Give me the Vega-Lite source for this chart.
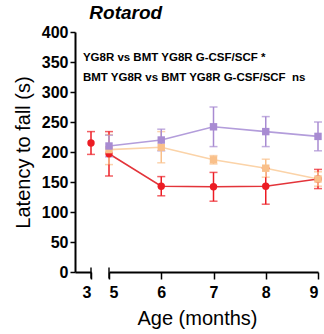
{
  "$schema": "https://vega.github.io/schema/vega-lite/v6.json",
  "padding": {"left": 13, "top": 4, "right": 2, "bottom": 2},
  "bounds": "flush",
  "title": {"text": "Rotarod", "anchor": "start", "dx": 76, "fontSize": 19, "fontStyle": "italic", "fontWeight": "bold", "font": "Liberation Sans", "color": "#000", "offset": 1},
  "datasets": {
    "series": [
      {"age": 3, "group": "YG8R", "mean": 215, "err": 19},
      {"age": 5, "group": "YG8R", "mean": 197, "err": 37},
      {"age": 6, "group": "YG8R", "mean": 143, "err": 16},
      {"age": 7, "group": "YG8R", "mean": 142, "err": 24},
      {"age": 8, "group": "YG8R", "mean": 143, "err": 30},
      {"age": 9, "group": "YG8R", "mean": 155, "err": 16},
      {"age": 5, "group": "BMT YG8R", "mean": 204, "err": 25},
      {"age": 6, "group": "BMT YG8R", "mean": 208, "err": 26},
      {"age": 7, "group": "BMT YG8R", "mean": 187, "err": 7},
      {"age": 8, "group": "BMT YG8R", "mean": 173, "err": 15},
      {"age": 9, "group": "BMT YG8R", "mean": 155, "err": 12},
      {"age": 5, "group": "BMT YG8R G-CSF/SCF", "mean": 210, "err": 18},
      {"age": 6, "group": "BMT YG8R G-CSF/SCF", "mean": 220, "err": 18},
      {"age": 7, "group": "BMT YG8R G-CSF/SCF", "mean": 242, "err": 33},
      {"age": 8, "group": "BMT YG8R G-CSF/SCF", "mean": 234, "err": 25},
      {"age": 9, "group": "BMT YG8R G-CSF/SCF", "mean": 226, "err": 24}
    ],
    "notes": [
      {"label": "YG8R vs BMT YG8R G-CSF/SCF *", "x": 4.5, "y": 357},
      {"label": "BMT YG8R vs BMT YG8R G-CSF/SCF\u00a0\u00a0ns", "x": 4.5, "y": 324}
    ]
  },
  "spacing": 18,
  "hconcat": [
    {
      "width": 16,
      "height": 240,
      "data": {"name": "series"},
      "transform": [{"filter": {"field": "age", "lte": 3}}],
      "layer": [
        {
          "mark": {"type": "errorbar", "thickness": 1.5, "ticks": {"size": 8, "thickness": 1.5}},
          "encoding": {
            "x": {"field": "age", "type": "quantitative", "scale": {"domain": [2.7, 3], "zero": false, "nice": false}, "axis": {"values": [3], "format": "d", "title": null, "grid": false}},
            "y": {"field": "mean", "type": "quantitative", "scale": {"domain": [0, 400], "nice": false}, "axis": {"values": [0, 50, 100, 150, 200, 250, 300, 350, 400], "labelOverlap": false, "title": "Latency to fall (s)", "grid": false, "tickSize": 5, "titlePadding": 8, "labelPadding": 2}},
            "yError": {"field": "err"},
            "color": {"field": "group", "type": "nominal", "legend": null, "scale": {"domain": ["YG8R", "BMT YG8R", "BMT YG8R G-CSF/SCF"], "range": ["#ec1c24", "#f9c08a", "#a88bd2"]}}
          }
        },
        {
          "mark": {"type": "tick", "orient": "vertical", "size": 11, "thickness": 2, "color": "#000", "yOffset": 1},
          "encoding": {
            "x": {"datum": 3, "type": "quantitative", "axis": {"values": [3], "format": "d", "title": null, "grid": false}},
            "y": {"datum": 0, "type": "quantitative", "axis": {"values": [0, 50, 100, 150, 200, 250, 300, 350, 400], "labelOverlap": false, "title": "Latency to fall (s)", "grid": false, "tickSize": 5, "titlePadding": 8, "labelPadding": 2}}
          }
        },
        {
          "mark": {"type": "point", "filled": true, "size": 55, "opacity": 1},
          "encoding": {
            "x": {"field": "age", "type": "quantitative", "axis": {"values": [3], "format": "d", "title": null, "grid": false}},
            "y": {"field": "mean", "type": "quantitative", "axis": {"values": [0, 50, 100, 150, 200, 250, 300, 350, 400], "labelOverlap": false, "title": "Latency to fall (s)", "grid": false, "tickSize": 5, "titlePadding": 8, "labelPadding": 2}},
            "shape": {"field": "group", "type": "nominal", "legend": null, "scale": {"domain": ["YG8R", "BMT YG8R", "BMT YG8R G-CSF/SCF"], "range": ["circle", "square", "square"]}},
            "fill": {"field": "group", "type": "nominal", "legend": null, "scale": {"domain": ["YG8R", "BMT YG8R", "BMT YG8R G-CSF/SCF"], "range": ["#ec1c24", "#f9c08a", "#a88bd2"]}}
          }
        }
      ]
    },
    {
      "width": 209,
      "height": 240,
      "layer": [
        {
          "data": {"name": "series"},
          "transform": [{"filter": {"field": "age", "gte": 5}}],
          "mark": {"type": "line", "strokeWidth": 1.6},
          "encoding": {
            "x": {"field": "age", "type": "quantitative", "scale": {"domain": [5, 9], "zero": false, "nice": false}, "axis": {"values": [5, 6, 7, 8, 9], "format": "d", "title": "Age (months)", "titleX": 88, "grid": false}},
            "y": {"field": "mean", "type": "quantitative", "scale": {"domain": [0, 400], "nice": false}, "axis": null},
            "stroke": {"field": "group", "type": "nominal", "legend": null, "scale": {"domain": ["YG8R", "BMT YG8R", "BMT YG8R G-CSF/SCF"], "range": ["#e3343a", "#fbd3a8", "#b39ddb"]}}
          }
        },
        {
          "data": {"name": "series"},
          "transform": [{"filter": {"field": "age", "gte": 5}}],
          "mark": {"type": "errorbar", "thickness": 1.5, "ticks": {"size": 8, "thickness": 1.5}},
          "encoding": {
            "x": {"field": "age", "type": "quantitative"},
            "y": {"field": "mean", "type": "quantitative"},
            "yError": {"field": "err"},
            "color": {"field": "group", "type": "nominal", "legend": null, "scale": {"domain": ["YG8R", "BMT YG8R", "BMT YG8R G-CSF/SCF"], "range": ["#ec1c24", "#f9c08a", "#a88bd2"]}}
          }
        },
        {
          "data": {"name": "series"},
          "transform": [{"filter": {"field": "age", "gte": 5}}],
          "mark": {"type": "point", "filled": true, "size": 55, "opacity": 1},
          "encoding": {
            "x": {"field": "age", "type": "quantitative"},
            "y": {"field": "mean", "type": "quantitative"},
            "shape": {"field": "group", "type": "nominal", "legend": null, "scale": {"domain": ["YG8R", "BMT YG8R", "BMT YG8R G-CSF/SCF"], "range": ["circle", "square", "square"]}},
            "fill": {"field": "group", "type": "nominal", "legend": null, "scale": {"domain": ["YG8R", "BMT YG8R", "BMT YG8R G-CSF/SCF"], "range": ["#ec1c24", "#f9c08a", "#a88bd2"]}}
          }
        },
        {
          "data": {"values": [{"a": 1}]},
          "mark": {"type": "tick", "orient": "vertical", "size": 11, "thickness": 2, "color": "#000", "yOffset": 1},
          "encoding": {"x": {"datum": 5, "type": "quantitative"}, "y": {"datum": 0, "type": "quantitative"}}
        },
        {
          "data": {"name": "notes"},
          "mark": {"type": "text", "align": "left", "baseline": "middle", "fontSize": 11.5, "fontWeight": "bold", "font": "Liberation Sans", "color": "#000"},
          "encoding": {
            "x": {"field": "x", "type": "quantitative"},
            "y": {"field": "y", "type": "quantitative"},
            "text": {"field": "label"}
          }
        }
      ]
    }
  ],
  "config": {
    "view": {"stroke": null},
    "axis": {
      "domainColor": "#000", "domainWidth": 2, "tickColor": "#000", "tickWidth": 1.5, "tickSize": 7,
      "labelFont": "Liberation Sans", "labelFontSize": 16, "labelFontWeight": "bold", "labelColor": "#000", "labelPadding": 5,
      "titleFont": "Liberation Sans", "titleFontSize": 20, "titleFontWeight": "normal", "titleColor": "#000", "titlePadding": 8
    }
  }
}
